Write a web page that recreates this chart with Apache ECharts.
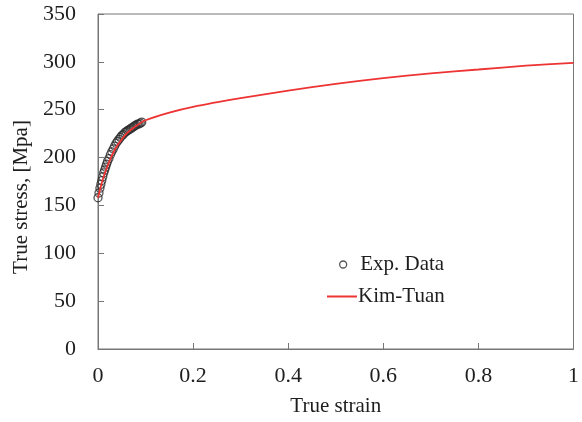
<!DOCTYPE html>
<html><head><meta charset="utf-8">
<script src="https://cdn.jsdelivr.net/npm/echarts@6/dist/echarts.min.js"></script>
<style>html,body{margin:0;padding:0;background:#fff}#c{width:582px;height:422px}</style>
</head><body><div id="c"></div>
<script>
const expStrain = [0, 0.002, 0.004, 0.006, 0.008, 0.010, 0.012, 0.014, 0.016, 0.018, 0.020, 0.023, 0.026, 0.029, 0.032, 0.035, 0.038, 0.041, 0.044, 0.047, 0.050, 0.053, 0.056, 0.059, 0.062, 0.065, 0.068, 0.071, 0.074, 0.077, 0.080, 0.083, 0.086, 0.089, 0.092];
const expStress = [158, 163, 168, 172, 176, 180, 184, 187, 190, 193, 196, 199, 203, 206, 209, 212, 215, 217, 219, 221, 223, 224, 226, 227, 228, 229, 230, 231, 232, 233, 234, 235, 235, 236, 237];
const ktStrain = [0, 0.005, 0.01, 0.02, 0.03, 0.04, 0.06, 0.08, 0.1, 0.15, 0.2, 0.3, 0.4, 0.5, 0.6, 0.7, 0.8, 0.9, 1.0];
const ktStress = [158, 168, 177, 191, 203, 212, 225, 233, 239, 247, 253, 262, 270, 277, 283, 288, 292, 296, 299];
const xTickLabels = ['0', '0.2', '0.4', '0.6', '0.8', '1'];

const font = 'Liberation Serif';
const txt = '#1e1e1e';
const chart = echarts.init(document.getElementById('c'));
chart.setOption({
  animation: false,
  textStyle: {fontFamily: font, color: txt},
  grid: {left: 98, right: 5, top: 14, bottom: 72, show: true, borderColor: '#777', borderWidth: 1},
  legend: [
    {
      left: 339, top: 254, padding: 0, itemWidth: 30, itemHeight: 7, itemGap: 0,
      textStyle: {fontFamily: font, fontSize: 21, color: txt, padding: [0, 0, 0, -3]},
      itemStyle: {color: '#fff', borderColor: '#2a2a2a', borderWidth: 1.3},
      data: [{name: 'Exp. Data', icon: 'circle'}]
    },
    {
      left: 327, top: 286, padding: 0, itemWidth: 30, itemHeight: 2, itemGap: 0,
      textStyle: {fontFamily: font, fontSize: 21, color: txt, padding: [0, 0, 0, -4]},
      data: [{name: 'Kim-Tuan', icon: 'rect'}]
    }
  ],
  xAxis: {
    type: 'value', min: 0, max: 1, interval: 0.2,
    name: 'True strain', nameLocation: 'middle', nameGap: 47,
    nameTextStyle: {fontFamily: font, fontSize: 21, color: txt},
    axisLine: {lineStyle: {color: '#777'}},
    axisTick: {inside: true, length: 6, lineStyle: {color: '#777'}},
    axisLabel: {fontFamily: font, fontSize: 22, color: txt, margin: 16,
      formatter: (v) => xTickLabels[Math.round(v * 5)]},
    splitLine: {show: false}
  },
  yAxis: {
    type: 'value', min: 0, max: 350, interval: 50,
    axisLine: {show: true, lineStyle: {color: '#777'}},
    axisTick: {show: true, inside: true, length: 6, lineStyle: {color: '#777'}},
    axisLabel: {fontFamily: font, fontSize: 22, color: txt, margin: 22},
    splitLine: {show: false}
  },
  graphic: [{
    type: 'text', x: 21, y: 197, rotation: Math.PI / 2,
    style: {text: 'True stress, [Mpa]', font: '21px "Liberation Serif"', fill: txt,
      align: 'center', verticalAlign: 'middle'}
  }],
  series: [
    {
      name: 'Exp. Data', type: 'scatter', symbol: 'circle', symbolSize: 8,
      itemStyle: {color: 'rgba(255,255,255,0)', borderColor: '#2a2a2a', borderWidth: 1.3},
      data: expStrain.map((x, i) => [x, expStress[i]]), z: 2
    },
    {
      name: 'Kim-Tuan', type: 'line', symbol: 'none', smooth: 0.3,
      lineStyle: {color: '#ee3333', width: 1.8}, itemStyle: {color: '#ee3333'},
      data: ktStrain.map((x, i) => [x, ktStress[i]]), z: 3
    }
  ]
});
</script></body></html>
